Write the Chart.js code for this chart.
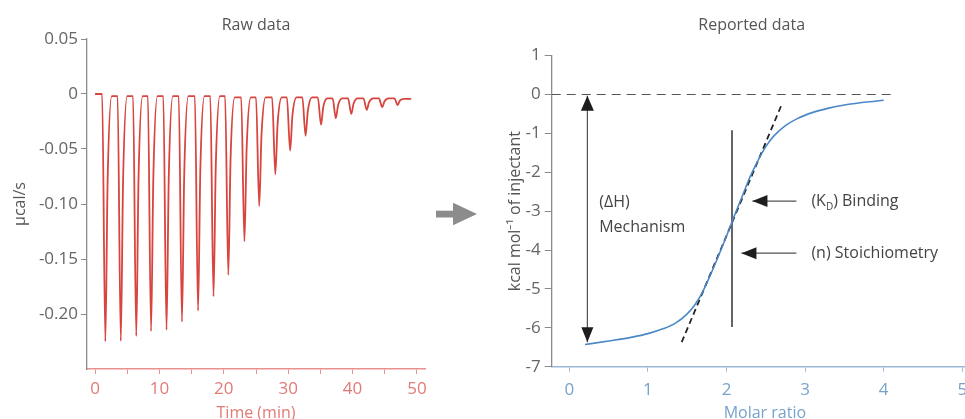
<!DOCTYPE html>
<html>
<head>
<meta charset="utf-8">
<script src="https://cdn.jsdelivr.net/npm/chart.js@4.4.0/dist/chart.umd.min.js"></script>
<style>
html,body{margin:0;padding:0;width:965px;height:419px;overflow:hidden;background:#fff;}
#c1{position:absolute;left:0;top:0;}
#c2{position:absolute;left:480px;top:0;}
</style>
</head>
<body>
<canvas id="c1" width="480" height="430" style="width:480px;height:430px"></canvas>
<canvas id="c2" width="520" height="430" style="width:520px;height:430px"></canvas>
<script>
// ---------- Raw data (left panel) ----------
const rawTime = [0,
  1.1,1.6,1.95,2.6,
  3.5,4.0,4.35,5.0,
  5.9,6.4,6.75,7.4,
  8.2,8.7,9.05,9.7,
  10.6,11.1,11.45,12.1,
  13.0,13.5,13.85,14.5,
  15.5,16.0,16.35,17.0,
  17.9,18.4,18.75,19.4,
  20.2,20.7,21.05,21.7,
  22.7,23.2,23.55,24.2,
  25.0,25.5,25.85,26.5,
  27.5,28.0,28.35,29.0,
  29.8,30.3,30.65,31.3,
  32.2,32.7,33.05,33.7,
  34.6,35.1,35.45,36.1,
  36.9,37.4,37.75,38.4,
  39.3,39.8,40.15,40.8,
  41.7,42.2,42.55,43.2,
  44.1,44.6,44.95,45.6,
  46.5,47.0,47.35,48.0,
  49.1];
const rawSignal = [0,
  0,-0.225,-0.080,-0.002,
  -0.002,-0.2245,-0.080,-0.002,
  -0.002,-0.220,-0.078,-0.002,
  -0.002,-0.2155,-0.077,-0.002,
  -0.002,-0.2145,-0.076,-0.002,
  -0.002,-0.207,-0.074,-0.002,
  -0.002,-0.197,-0.070,-0.002,
  -0.002,-0.184,-0.066,-0.002,
  -0.002,-0.1645,-0.059,-0.003,
  -0.003,-0.134,-0.049,-0.003,
  -0.003,-0.102,-0.038,-0.003,
  -0.003,-0.073,-0.0275,-0.003,
  -0.003,-0.0515,-0.020,-0.003,
  -0.003,-0.038,-0.0153,-0.003,
  -0.003,-0.028,-0.0118,-0.004,
  -0.004,-0.022,-0.0103,-0.004,
  -0.004,-0.018,-0.0089,-0.004,
  -0.004,-0.0145,-0.0077,-0.004,
  -0.004,-0.012,-0.0068,-0.004,
  -0.004,-0.010,-0.0061,-0.0045,
  -0.0045];
const timeTicks = [0,5,10,15,20,25,30,35,40,45,50];
const timeTickLabels = ['0','','10','','20','','30','','40','','50'];
const powerTicks = [-0.20,-0.15,-0.10,-0.05,0,0.05];
const powerTickLabels = ['-0.20','-0.15','-0.10','-0.05','0','0.05'];

// ---------- Reported data (right panel) ----------
const molarRatio = [0.2,0.5,0.8,1.0,1.2,1.35,1.5,1.6,1.7,1.8,1.9,2.0,2.1,2.2,2.3,2.4,2.5,2.6,2.75,2.9,3.1,3.3,3.5,3.75,4.0];
const heatPerMol = [-6.43,-6.34,-6.24,-6.15,-6.02,-5.88,-5.64,-5.40,-5.06,-4.62,-4.14,-3.64,-3.12,-2.62,-2.12,-1.70,-1.34,-1.07,-0.80,-0.62,-0.46,-0.35,-0.27,-0.20,-0.15];
const tangentX = [1.43,2.70];
const tangentY = [-6.37,-0.27];
const zeroLineX = [-0.224,4.12];
const stoichX = [2.07,2.07];
const stoichY = [-0.92,-5.98];
const ratioTicks = [0,1,2,3,4,5];
const ratioTickLabels = ['0','1','2','3','4','5'];
const heatTicks = [-7,-6,-5,-4,-3,-2,-1,0,1];
const heatTickLabels = ['-7','-6','-5','-4','-3','-2','-1','0','1'];

// annotation arrows (data coordinates), heads at the listed ends
const arrowDefs = [
  {x1:0.23, y1:-0.03, x2:0.23, y2:-6.37, heads:['start','end']},
  {x1:2.89, y1:-2.74, x2:2.33, y2:-2.74, heads:['end']},
  {x1:2.89, y1:-4.08, x2:2.19, y2:-4.08, heads:['end']}
];

const FONT = "'Open Sans', sans-serif";
const RED = '#d8443e', RED_AXIS = '#e8928d', RED_LABEL = '#e07b76';
const BLUE = '#4a88c7', BLUE_AXIS = '#9bb9d6', BLUE_LABEL = '#78a2cc';
const GREY_AXIS = '#8a8a8a', GREY_LABEL = '#666', TITLE_COL = '#555';

const middleArrow = {
  id: 'middleArrow',
  afterDraw(chart) {
    const ctx = chart.ctx;
    ctx.save();
    ctx.fillStyle = '#8c8c8c';
    ctx.fillRect(436, 210.7, 18, 6.8);
    ctx.beginPath();
    ctx.moveTo(453, 202.7); ctx.lineTo(477, 214); ctx.lineTo(453, 225.3);
    ctx.closePath(); ctx.fill();
    ctx.restore();
  }
};

new Chart(document.getElementById('c1'), {
  type: 'line',
  data: { datasets: [{
    data: rawTime.map((t, i) => ({x: t, y: rawSignal[i]})),
    borderColor: RED, borderWidth: 1.8, pointRadius: 0, fill: false,
    cubicInterpolationMode: 'monotone'
  }]},
  options: {
    responsive: false, animation: false,
    layout: { padding: { left: 0, right: 55, top: 0, bottom: 0 } },
    plugins: {
      legend: { display: false }, tooltip: { enabled: false },
      title: { display: true, text: 'Raw data', fullSize: false, color: TITLE_COL,
               font: { family: FONT, size: 16, weight: 'normal' }, padding: { top: 15.4, bottom: 4.4 } }
    },
    scales: {
      x: {
        type: 'linear', min: -1.25, max: 51.25,
        afterBuildTicks: a => { a.ticks = timeTicks.map(v => ({ value: v })); },
        afterFit: s => { s.height = 61; },
        border: { display: true, color: RED_AXIS, width: 1.5 },
        grid: { display: true, drawOnChartArea: false, drawTicks: true, tickLength: 5, color: RED_AXIS },
        ticks: { color: RED_LABEL, font: { family: FONT, size: 17 }, padding: 5, maxRotation: 0, autoSkip: false,
                 callback: (v, i) => timeTickLabels[i] },
        title: { display: true, text: 'Time (min)', color: RED_LABEL, font: { family: FONT, size: 16 },
                 padding: { top: 0, bottom: 7 } }
      },
      y: {
        type: 'linear', min: -0.25, max: 0.05,
        afterBuildTicks: a => { a.ticks = powerTicks.map(v => ({ value: v })); },
        afterFit: s => { s.width = 87; },
        border: { display: true, color: GREY_AXIS, width: 1.3 },
        grid: { display: true, drawOnChartArea: false, drawTicks: true, tickLength: 6, color: GREY_AXIS },
        ticks: { color: GREY_LABEL, font: { family: FONT, size: 17 }, padding: 3, autoSkip: false,
                 callback: (v, i) => powerTickLabels[i] },
        title: { display: true, text: 'μcal/s', color: TITLE_COL, font: { family: FONT, size: 16 },
                 padding: { top: 10.4, bottom: 0 } }
      }
    }
  },
  plugins: [middleArrow]
});

function drawHead(ctx, tx, ty, fx, fy, len, w) {
  const a = Math.atan2(ty - fy, tx - fx);
  const bx = tx - len * Math.cos(a), by = ty - len * Math.sin(a);
  ctx.beginPath();
  ctx.moveTo(tx, ty);
  ctx.lineTo(bx + (w / 2) * Math.sin(a), by - (w / 2) * Math.cos(a));
  ctx.lineTo(bx - (w / 2) * Math.sin(a), by + (w / 2) * Math.cos(a));
  ctx.closePath();
  ctx.fill();
}

const annotations = {
  id: 'annotations',
  afterDatasetsDraw(chart) {
    const { ctx, scales: { x, y } } = chart;
    ctx.save();
    ctx.fillStyle = '#1e1e1e';
    arrowDefs.forEach(a => {
      const p1x = x.getPixelForValue(a.x1), p1y = y.getPixelForValue(a.y1);
      const p2x = x.getPixelForValue(a.x2), p2y = y.getPixelForValue(a.y2);
      if (a.heads.includes('start')) drawHead(ctx, p1x, p1y, p2x, p2y, 15, 13);
      if (a.heads.includes('end')) drawHead(ctx, p2x, p2y, p1x, p1y, 15, 12);
    });
    ctx.fillStyle = '#444';
    ctx.textBaseline = 'middle';
    ctx.textAlign = 'left';
    const f = '16px ' + FONT, fs = '10px ' + FONT;
    ctx.font = f;
    ctx.fillText('(ΔH)', x.getPixelForValue(0.38), y.getPixelForValue(-2.78));
    ctx.fillText('Mechanism', x.getPixelForValue(0.38), y.getPixelForValue(-3.42));
    ctx.fillText('(n) Stoichiometry', x.getPixelForValue(3.08), y.getPixelForValue(-4.09));
    let kx = x.getPixelForValue(3.08);
    const ky = y.getPixelForValue(-2.76);
    ctx.fillText('(K', kx, ky); kx += ctx.measureText('(K').width;
    ctx.font = fs; ctx.fillText('D', kx, ky + 5); kx += ctx.measureText('D').width;
    ctx.font = f; ctx.fillText(') Binding', kx, ky);
    ctx.restore();
  }
};

const seg = (xs, ys) => xs.map((v, i) => ({ x: v, y: ys[i] }));

new Chart(document.getElementById('c2'), {
  type: 'line',
  data: { datasets: [
    { data: seg(zeroLineX, [0, 0]), borderColor: '#555', borderWidth: 1.2, borderDash: [9, 6], pointRadius: 0 },
    { data: seg(molarRatio, heatPerMol), borderColor: BLUE, borderWidth: 1.6, pointRadius: 0, cubicInterpolationMode: 'monotone' },
    { data: seg(tangentX, tangentY), borderColor: '#222', borderWidth: 1.8, borderDash: [6, 4], pointRadius: 0 },
    { data: seg(stoichX, stoichY), borderColor: '#333', borderWidth: 1.5, pointRadius: 0 },
    ...arrowDefs.map(a => ({ data: seg([a.x1, a.x2], [a.y1, a.y2]), borderColor: '#555', borderWidth: 1.2, pointRadius: 0 }))
  ]},
  options: {
    responsive: false, animation: false,
    layout: { padding: { left: 45.4, right: 22, top: 0, bottom: 0 } },
    plugins: {
      legend: { display: false }, tooltip: { enabled: false },
      title: { display: true, text: 'Reported data', fullSize: true, color: TITLE_COL,
               font: { family: FONT, size: 16, weight: 'normal' }, padding: { top: 15.4, bottom: 21 } }
    },
    scales: {
      x: {
        type: 'linear', min: -0.224, max: 5.2,
        afterBuildTicks: a => { a.ticks = ratioTicks.map(v => ({ value: v })); },
        afterFit: s => { s.height = 63.3; },
        border: { display: true, color: BLUE_AXIS, width: 1.5 },
        grid: { display: true, drawOnChartArea: false, drawTicks: true, tickLength: 5, color: BLUE_AXIS },
        ticks: { color: BLUE_LABEL, font: { family: FONT, size: 17 }, padding: 8, maxRotation: 0, autoSkip: false,
                 callback: (v, i) => ratioTickLabels[i] },
        title: { display: true, text: 'Molar ratio', color: BLUE_LABEL, font: { family: FONT, size: 16 },
                 padding: { top: 0, bottom: 7 } }
      },
      y: {
        type: 'linear', min: -7, max: 1,
        afterBuildTicks: a => { a.ticks = heatTicks.map(v => ({ value: v })); },
        afterFit: s => { s.width = 26.3; },
        border: { display: true, color: GREY_AXIS, width: 1.3 },
        grid: { display: true, drawOnChartArea: false, drawTicks: true, tickLength: 7, color: GREY_AXIS },
        ticks: { color: GREY_LABEL, font: { family: FONT, size: 17 }, padding: 4, autoSkip: false,
                 callback: (v, i) => heatTickLabels[i] },
        title: { display: true, text: 'kcal mol⁻¹ of injectant', color: TITLE_COL, font: { family: FONT, size: 16 },
                 padding: { top: -20, bottom: 0 } }
      }
    }
  },
  plugins: [annotations]
});
</script>
</body>
</html>
